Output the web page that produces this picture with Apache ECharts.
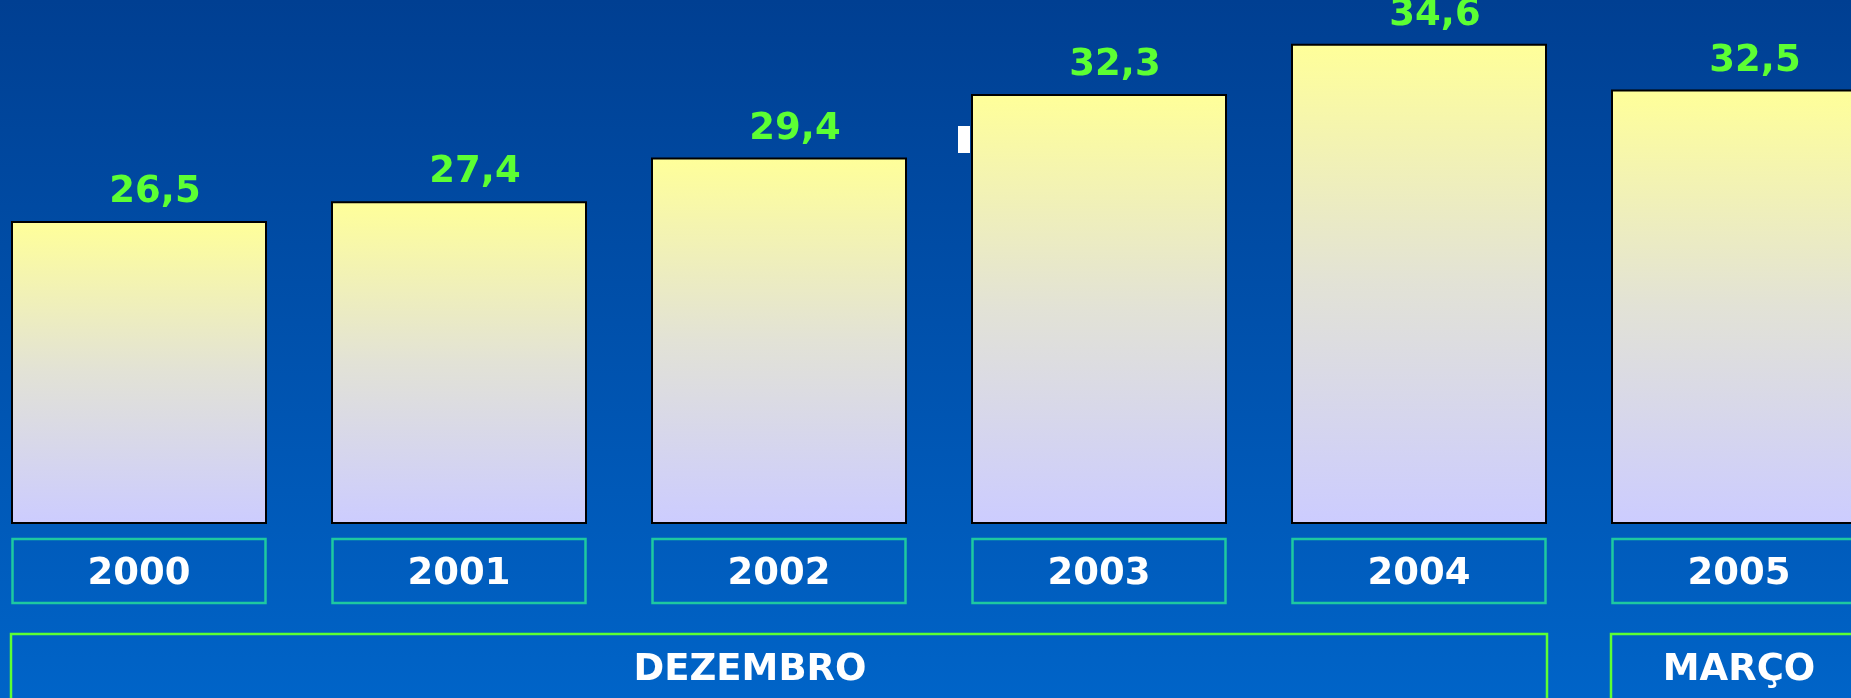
<!DOCTYPE html>
<html>
<head>
<meta charset="utf-8">
<script src="https://cdn.jsdelivr.net/npm/echarts@6/dist/echarts.min.js"></script>
<style>
  html, body { margin: 0; padding: 0; }
  #main { width: 1851px; height: 698px; }
</style>
</head>
<body>
<div id="main"></div>
<script>
// dados do gráfico
const years = ['2000', '2001', '2002', '2003', '2004', '2005'];
const values = [26.5, 27.4, 29.4, 32.3, 34.6, 32.5];
const groups = ['DEZEMBRO', 'MARÇO'];
const groupStart = ['2000', '2005'];
const groupEnd = ['2004', '2005'];

const font = 'DejaVu Sans';
const barW = 256;
const groupTextShift = [-29, 0];

const chart = echarts.init(document.getElementById('main'));

const option = {
  backgroundColor: new echarts.graphic.LinearGradient(0, 0, 0, 1, [
    { offset: 0, color: '#003f92' },
    { offset: 1, color: '#0064c8' }
  ]),
  grid: {
    left: -21, right: -48, top: 13, bottom: 175,
    containLabel: false,
    outerBoundsMode: 'none'
  },
  xAxis: {
    type: 'category',
    data: years,
    axisLine: { show: false },
    axisTick: { show: false },
    axisLabel: {
      margin: 16,
      color: '#ffffff',
      fontFamily: font,
      fontWeight: 'bold',
      fontSize: 37,
      width: 253,
      height: 58,
      lineHeight: 58,
      padding: [6, 0, 0, 0],
      align: 'center',
      borderColor: '#1ec9a0',
      borderWidth: 2.5
    }
  },
  yAxis: {
    type: 'value',
    min: 12.7,
    max: 36,
    show: false
  },
  series: [
    {
      type: 'bar',
      data: values,
      barWidth: barW,
      itemStyle: {
        borderColor: '#000000',
        borderWidth: 2,
        color: new echarts.graphic.LinearGradient(0, 0, 0, 1, [
          { offset: 0, color: '#ffff99' },
          { offset: 0.5, color: '#e2e2d6' },
          { offset: 1, color: '#ccccff' }
        ])
      },
      label: {
        show: true,
        position: 'top',
        distance: 10,
        offset: [16, 0],
        color: '#5cff33',
        fontFamily: font,
        fontWeight: 'bold',
        fontSize: 37,
        formatter: p => String(p.value).replace('.', ',')
      }
    }
  ]
};

chart.setOption(option);

// caixas dos meses, posicionadas pelo eixo
const elements = groups.map((name, i) => {
  const x0 = chart.convertToPixel({ xAxisIndex: 0 }, groupStart[i]) - barW / 2;
  const x1 = chart.convertToPixel({ xAxisIndex: 0 }, groupEnd[i]) + barW / 2;
  return {
    type: 'group',
    children: [
      {
        type: 'rect',
        shape: { x: x0, y: 634, width: x1 - x0, height: 68 },
        style: { fill: 'none', stroke: '#5cff33', lineWidth: 2.5 }
      },
      {
        type: 'text',
        x: (x0 + x1) / 2 + groupTextShift[i],
        y: 670,
        style: {
          text: name,
          fill: '#ffffff',
          font: 'bold 37px "' + font + '"',
          align: 'center',
          verticalAlign: 'middle'
        }
      }
    ]
  };
});

elements.push({
  type: 'rect',
  shape: { x: 958, y: 126, width: 12, height: 27 },
  style: { fill: '#ffffff' }
});

chart.setOption({ graphic: elements });
</script>
</body>
</html>
